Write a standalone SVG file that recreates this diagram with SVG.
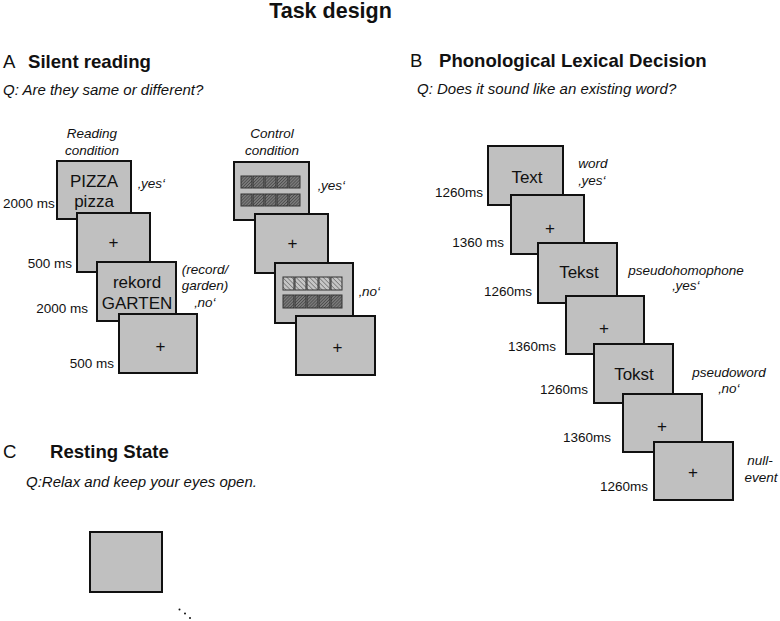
<svg xmlns="http://www.w3.org/2000/svg" width="780" height="621" viewBox="0 0 780 621">
<style>
text{font-family:"Liberation Sans",Arial,sans-serif;fill:#111}
.title{font-size:21.5px;font-weight:bold}
.head{font-size:18.6px;font-weight:bold}
.letter{font-size:18.6px}
.q{font-size:15px;font-style:italic}
.lab{font-size:13.5px;font-style:italic}
.ms{font-size:13.5px}
.box{fill:#c0c0c0;stroke:#111;stroke-width:2}
.word{font-size:17px;text-anchor:middle}
.plus{font-size:17px;text-anchor:middle}
.mid{text-anchor:middle}
.end{text-anchor:end}
.sqD{fill:url(#hatchDark);stroke:#333;stroke-width:1}
.sqL{fill:url(#hatchLight);stroke:#333;stroke-width:1}
</style>
<defs>
<pattern id="hatchDark" patternUnits="userSpaceOnUse" width="2.2" height="2.2" patternTransform="rotate(45)">
<rect width="2.2" height="2.2" fill="#7a7a7a"/>
<line x1="0" y1="0" x2="0" y2="2.2" stroke="#3a3a3a" stroke-width="1.1"/>
</pattern>
<pattern id="hatchLight" patternUnits="userSpaceOnUse" width="3.2" height="3.2" patternTransform="rotate(-45)">
<rect width="3.2" height="3.2" fill="#c6c6c6"/>
<line x1="0" y1="0" x2="0" y2="3.2" stroke="#4a4a4a" stroke-width="1"/>
</pattern>
</defs>
<rect width="780" height="621" fill="#fff"/>
<text class="title mid" x="330.5" y="18">Task design</text>

<!-- Section A -->
<g id="sectionA-header">
<text class="letter" x="3" y="68">A</text>
<text class="head" x="28" y="68">Silent reading</text>
<text class="q" x="3" y="95">Q: Are they same or different?</text>
<text class="lab mid" x="92" y="138">Reading</text>
<text class="lab mid" x="92" y="155">condition</text>
<text class="lab mid" x="272" y="138">Control</text>
<text class="lab mid" x="272" y="155">condition</text>
</g>
<g id="readA1">
<rect class="box" x="57" y="161" width="74" height="58"/>
<text class="word" x="94" y="187">PIZZA</text>
<text class="word" x="94" y="207">pizza</text>
<text class="lab" x="138" y="188">‚yes‘</text>
<text class="ms" x="3" y="208">2000 ms</text>
</g>
<g id="readA2">
<rect class="box" x="77" y="213" width="73" height="59"/>
<text class="plus" x="113.5" y="248">+</text>
<text class="ms end" x="72" y="268">500 ms</text>
</g>
<g id="readA3">
<rect class="box" x="97" y="262" width="79" height="59"/>
<text class="word" x="137" y="288">rekord</text>
<text class="word" x="137" y="309">GARTEN</text>
<text class="lab mid" x="205" y="274">(record/</text>
<text class="lab mid" x="205" y="290">garden)</text>
<text class="lab mid" x="205" y="307">‚no‘</text>
<text class="ms end" x="88" y="313">2000 ms</text>
</g>
<g id="readA4">
<rect class="box" x="119" y="314" width="78" height="59"/>
<text class="plus" x="160.5" y="352">+</text>
<text class="ms end" x="114" y="368">500 ms</text>
</g>

<g id="ctrlA1">
<rect class="box" x="234" y="162" width="75" height="58"/>
<rect class="sqD" x="241" y="176" width="11" height="12"/>
<rect class="sqD" x="253" y="176" width="11" height="12"/>
<rect class="sqD" x="265" y="176" width="11" height="12"/>
<rect class="sqD" x="277" y="176" width="11" height="12"/>
<rect class="sqD" x="289" y="176" width="11" height="12"/>
<rect class="sqD" x="241" y="194" width="11" height="12"/>
<rect class="sqD" x="253" y="194" width="11" height="12"/>
<rect class="sqD" x="265" y="194" width="11" height="12"/>
<rect class="sqD" x="277" y="194" width="11" height="12"/>
<rect class="sqD" x="289" y="194" width="11" height="12"/>
<text class="lab" x="318" y="190">‚yes‘</text>
</g>
<g id="ctrlA2">
<rect class="box" x="255" y="214" width="73" height="59"/>
<text class="plus" x="292.5" y="249">+</text>
</g>
<g id="ctrlA3">
<rect class="box" x="275" y="263" width="78" height="60"/>
<rect class="sqL" x="283" y="277" width="11" height="13"/>
<rect class="sqL" x="295" y="277" width="11" height="13"/>
<rect class="sqL" x="307" y="277" width="11" height="13"/>
<rect class="sqL" x="319" y="277" width="11" height="13"/>
<rect class="sqL" x="331" y="277" width="11" height="13"/>
<rect class="sqD" x="283" y="295" width="11" height="13"/>
<rect class="sqD" x="295" y="295" width="11" height="13"/>
<rect class="sqD" x="307" y="295" width="11" height="13"/>
<rect class="sqD" x="319" y="295" width="11" height="13"/>
<rect class="sqD" x="331" y="295" width="11" height="13"/>
<text class="lab" x="359" y="296">‚no‘</text>
</g>
<g id="ctrlA4">
<rect class="box" x="296" y="316" width="79" height="59"/>
<text class="plus" x="337.5" y="353">+</text>
</g>

<!-- Section B -->
<g id="sectionB-header">
<text class="letter" x="410" y="67">B</text>
<text class="head" x="439" y="67">Phonological Lexical Decision</text>
<text class="q" x="417" y="94">Q: Does it sound like an existing word?</text>
</g>
<g id="lexB1">
<rect class="box" x="488" y="146" width="75" height="59"/>
<text class="word" x="527" y="183">Text</text>
<text class="lab mid" x="593" y="168">word</text>
<text class="lab mid" x="592" y="185">‚yes‘</text>
<text class="ms end" x="483" y="197">1260ms</text>
</g>
<g id="lexB2">
<rect class="box" x="511" y="195" width="73" height="59"/>
<text class="plus" x="550" y="234">+</text>
<text class="ms end" x="504" y="247">1360 ms</text>
</g>
<g id="lexB3">
<rect class="box" x="538" y="243" width="79" height="60"/>
<text class="word" x="579" y="278">Tekst</text>
<text class="lab mid" x="686" y="275">pseudohomophone</text>
<text class="lab mid" x="686" y="290">‚yes‘</text>
<text class="ms end" x="532" y="296">1260ms</text>
</g>
<g id="lexB4">
<rect class="box" x="566" y="296" width="78" height="58"/>
<text class="plus" x="604" y="334">+</text>
<text class="ms end" x="556" y="351">1360ms</text>
</g>
<g id="lexB5">
<rect class="box" x="594" y="344" width="79" height="59"/>
<text class="word" x="634" y="380">Tokst</text>
<text class="lab mid" x="729" y="377">pseudoword</text>
<text class="lab mid" x="729" y="393">‚no‘</text>
<text class="ms end" x="588" y="394">1260ms</text>
</g>
<g id="lexB6">
<rect class="box" x="623" y="394" width="79" height="58"/>
<text class="plus" x="662" y="432">+</text>
<text class="ms end" x="611" y="442">1360ms</text>
</g>
<g id="lexB7">
<rect class="box" x="654" y="442" width="79" height="58"/>
<text class="plus" x="693" y="478">+</text>
<text class="lab mid" x="760" y="465">null-</text>
<text class="lab mid" x="761" y="482">event</text>
<text class="ms end" x="648" y="491">1260ms</text>
</g>

<!-- Section C -->
<g id="sectionC-header">
<text class="letter" x="3" y="458">C</text>
<text class="head" x="50" y="458">Resting State</text>
<text class="q" x="26" y="487">Q:Relax and keep your eyes open.</text>
</g>
<g id="rest1">
<rect class="box" x="90" y="532" width="72" height="60"/>
<circle cx="179.5" cy="609.5" r="1" fill="#111"/>
<circle cx="185" cy="613.5" r="1" fill="#111"/>
<circle cx="190" cy="618" r="1" fill="#111"/>
</g>
<g id="connectors"/>
</svg>
